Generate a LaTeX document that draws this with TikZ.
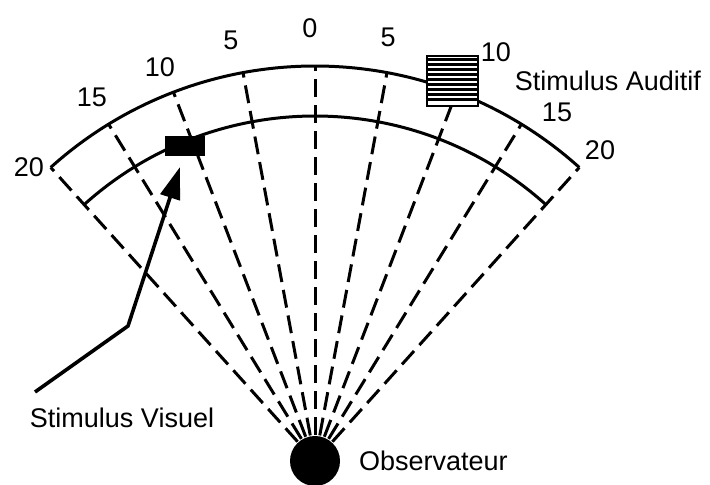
\documentclass[tikz,border=0pt]{standalone}
\usepackage{fontspec}
\setmainfont{Liberation Sans}
\usetikzlibrary{arrows.meta,positioning}

\begin{document}
\begin{tikzpicture}[x=0.5pt, y=0.5pt, line width=1.5pt,
    every node/.style={font=\fontsize{13.5}{15}\selectfont, inner sep=0pt},
    ray/.style={dash pattern=on 9pt off 4pt},
    mark label/.style={}]
    \useasboundingbox (0,0) rectangle (710,485);
    \def\rout{395}
    \def\rin{345}
    \coordinate (eye) at (315,24);

    % Rays, one every 5 units
    \foreach \a in {48,58.5,...,132}
        \draw[ray] (eye) -- ++(\a:\rout);

    % Two arcs
    \draw (eye) ++(132:\rout) arc[start angle=132, end angle=48, radius=\rout];
    \draw (eye) ++(132:\rin) arc[start angle=132, end angle=48, radius=\rin];

    % Scale marks
    \node[mark label] (m0)  at (310,457) {0};
    \node[mark label] (ml5) at (231,445) {5};
    \node[mark label] (ml10) at (160,418) {10};
    \node[mark label] (ml15) at (92,388) {15};
    \node[mark label] (ml20) at (29,318) {20};
    \node[mark label] (mr5) at (388,448) {5};
    \node[mark label] (mr15) at (557,373) {15};
    \node[mark label] (mr20) at (600,335) {20};

    % Observer
    \node[circle, fill, minimum size=25pt] (obs) at (eye) {};
    \node[right=8pt of obs] (obslab) {Observateur};

    % Auditory stimulus
    \node[draw, fill=white, line width=1.3pt, minimum width=25.5pt, minimum height=25pt] (aud) at (452.5,404) {};
    \foreach \i in {1,...,9}
        \draw[line width=1.2pt] ([yshift=-\i*2.5pt]aud.north west) -- ([yshift=-\i*2.5pt]aud.north east);
    \node[anchor=west] (mr10) at ([yshift=1pt]aud.north east) {10};
    \node[right=17pt of aud] (audlab) {Stimulus Auditif};

    % Visual stimulus
    \node[fill, minimum width=20pt, minimum height=10pt] (vis) at (185,339) {};
    \node (vislab) at (122,67) {Stimulus Visuel};
    \coordinate (tail) at (35,93);
    \coordinate (bend) at (128,159);
    \coordinate (tip) at (180,318);
    \draw[line width=1.8pt, -{Triangle[length=16pt,width=10pt]}] (tail) -- (bend) -- (tip);
\end{tikzpicture}
\end{document}
